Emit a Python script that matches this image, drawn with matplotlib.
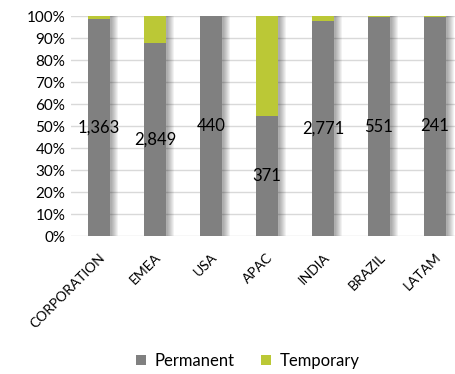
import numpy as np
import matplotlib.pyplot as plt

plt.rcParams['font.family'] = ['Lato', 'DejaVu Sans']

regions = ["CORPORATION", "EMEA", "USA", "APAC", "INDIA", "BRAZIL", "LATAM"]
permanent = [1363, 2849, 440, 371, 2771, 551, 241]
temporary = [18, 400, 0, 310, 60, 3, 1]

grey = "#808080"
green = "#BBC836"

perm = np.array(permanent, dtype=float)
temp = np.array(temporary, dtype=float)
total = perm + temp
perm_pct = perm / total * 100
temp_pct = temp / total * 100

fig = plt.figure(figsize=(4.55, 3.74), dpi=100)
ax = fig.add_axes([71 / 455, 1 - 236 / 374, 392 / 455, 220 / 374])

x = np.arange(len(regions))
w = 0.41

# soft shadow to the right of each bar
for k in range(7):
    off = 0.02 + k * 0.02
    ax.bar(x + off, perm_pct + temp_pct, width=w, color="black",
           alpha=0.05, zorder=1, linewidth=0)

ax.bar(x, perm_pct, width=w, color=grey, label="Permanent", zorder=2)
ax.bar(x, temp_pct, width=w, bottom=perm_pct, color=green,
       label="Temporary", zorder=2)

for xi, p, n in zip(x, perm_pct, permanent):
    ax.text(xi, p / 2, f"{n:,}", ha="center", va="center", fontsize=12,
            color="black", zorder=3)

ax.set_xlim(-0.5, 6.5)
ax.set_ylim(0, 100)
ax.set_yticks(np.arange(0, 101, 10))
ax.set_yticklabels([f"{v}%" for v in range(0, 101, 10)], fontsize=11)
ax.set_xticks(x)
ax.set_xticklabels(regions, rotation=45, ha="right", rotation_mode="anchor",
                   fontsize=10)
ax.tick_params(axis="y", length=0, pad=4)
ax.tick_params(axis="x", length=0, pad=11)
ax.grid(axis="y", color="#D9D9D9", linewidth=1, zorder=0)
ax.set_axisbelow(True)
for s in ax.spines.values():
    s.set_visible(False)

fig.legend(loc="center", bbox_to_anchor=(0.545, 1 - 361 / 374), ncol=2,
           frameon=False, fontsize=12, handlelength=0.6, handleheight=0.6,
           handletextpad=0.5, columnspacing=1.6)

fig.savefig("out.png", dpi=100)
